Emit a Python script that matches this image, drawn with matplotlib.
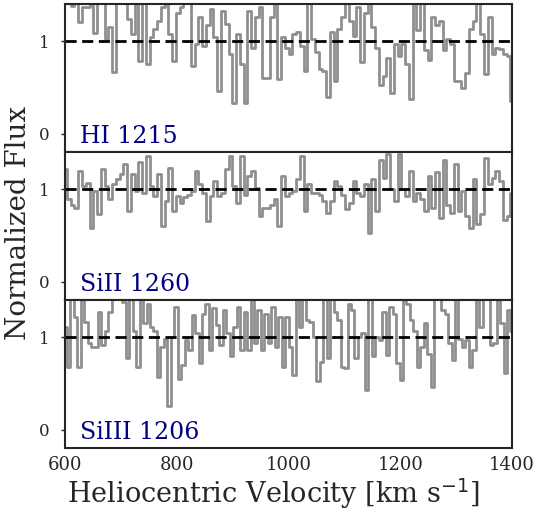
import numpy as np
import matplotlib
matplotlib.use("Agg")
import matplotlib.pyplot as plt

# Flux values (values above 1.4 are clipped by the axis)
flux_hi = [1.5, 1.5, 1.38, 1.5, 1.21, 1.37, 1.37, 1.5, 1.09, 1.5,
           1.5, 1.02, 1.15, 0.67, 1.5, 1.5, 1.5, 1.24, 1.08, 1.5,
           0.78, 1.5, 0.75, 1.04, 1.13, 1.22, 1.37, 1.5, 1.08, 0.79,
           1.30, 1.37, 1.5, 1.5, 0.73, 0.97, 1.26, 0.95, 1.17, 1.35,
           1.04, 0.46, 1.32, 1.19, 0.86, 0.33, 1.08, 0.75, 0.33, 1.33,
           0.93, 1.26, 1.37, 0.60, 0.60, 1.26, 1.5, 0.59, 1.04, 0.93,
           0.86, 1.08, 1.10, 0.95, 0.68, 1.5, 1.02, 0.88, 0.70, 0.68,
           0.40, 1.10, 0.57, 1.13, 1.26, 1.5, 1.22, 1.06, 1.37, 0.77,
           1.30, 1.5, 1.15, 0.93, 0.53, 0.62, 0.82, 0.44, 0.97, 0.84,
           0.97, 0.75, 0.37, 1.5, 1.12, 1.5, 0.90, 0.80, 1.26, 1.17,
           1.22, 0.90, 1.02, 0.97, 0.57, 0.57, 0.49, 0.66, 1.13, 1.22,
           1.5, 1.08, 0.64, 1.26, 0.86, 0.93, 0.91, 0.86, 0.84, 0.35]

flux_si2 = [1.22, 0.89, 0.83, 0.80, 1.20, 1.03, 1.07, 0.58, 0.98, 0.73,
            1.22, 1.03, 0.89, 1.05, 1.11, 1.16, 1.27, 0.76, 1.16, 0.98,
            1.29, 0.96, 1.36, 1.03, 0.93, 1.16, 0.60, 0.87, 1.23, 0.76,
            0.93, 0.85, 0.91, 0.94, 0.98, 1.20, 1.05, 0.96, 0.65, 0.93,
            1.09, 0.93, 0.96, 1.22, 1.36, 1.03, 0.85, 1.36, 0.94, 1.14,
            1.20, 1.01, 0.71, 0.80, 0.80, 0.83, 0.89, 0.60, 1.14, 0.93,
            0.96, 0.98, 1.11, 1.36, 0.76, 1.05, 0.96, 0.96, 0.94, 0.87,
            0.74, 0.87, 1.09, 1.03, 0.94, 0.78, 0.85, 1.09, 0.96, 0.93,
            1.05, 0.53, 1.11, 0.76, 1.31, 1.12, 1.38, 1.00, 0.87, 1.38,
            1.00, 0.93, 1.20, 0.87, 0.96, 0.89, 0.76, 1.14, 0.80, 1.18,
            0.69, 1.31, 0.83, 0.74, 1.27, 0.76, 0.98, 0.71, 0.58, 1.11,
            0.62, 0.73, 1.34, 1.05, 1.12, 1.20, 1.09, 0.67, 0.71, 0.96]

flux_si3 = [1.11, 0.68, 1.5, 1.22, 0.68, 1.5, 1.16, 0.93, 0.89, 0.89,
            1.27, 0.91, 1.07, 1.27, 1.5, 1.5, 1.5, 1.38, 0.77, 1.5,
            1.06, 0.68, 1.5, 1.15, 1.36, 1.11, 1.07, 0.57, 0.89, 0.98,
            0.25, 1.00, 1.32, 0.55, 0.70, 0.97, 0.86, 1.24, 1.04, 0.72,
            1.25, 1.36, 0.86, 1.31, 1.13, 0.91, 1.29, 1.04, 0.79, 1.11,
            1.32, 0.86, 1.27, 0.86, 1.5, 0.93, 1.29, 0.86, 1.25, 0.93,
            1.32, 0.89, 1.22, 0.68, 1.22, 0.89, 0.59, 1.5, 1.11, 1.5,
            1.18, 1.16, 1.00, 0.52, 0.73, 1.5, 0.77, 1.5, 1.27, 1.18,
            0.68, 0.66, 1.36, 1.29, 0.77, 1.00, 1.04, 0.43, 1.5, 0.79,
            1.00, 0.97, 1.27, 0.81, 1.32, 1.25, 0.72, 0.54, 1.5, 1.36,
            1.18, 1.06, 0.68, 0.89, 1.15, 0.82, 0.46, 1.5, 1.5, 1.29,
            1.25, 0.93, 0.75, 1.5, 0.98, 0.89, 0.97, 0.68, 0.86, 1.5,
            1.11, 1.5, 1.5, 0.91, 0.93, 1.5, 1.15, 0.61, 1.29, 1.07]

lines = ["HI 1215", "SiII 1260", "SiIII 1206"]
fluxes = [flux_hi, flux_si2, flux_si3]
vmin, vmax = 600, 1400

plt.rcParams["font.family"] = "DejaVu Serif"
plt.rcParams["text.color"] = "#262626"
plt.rcParams["axes.labelcolor"] = "#262626"
plt.rcParams["xtick.color"] = "#262626"
plt.rcParams["ytick.color"] = "#262626"

fig, axes = plt.subplots(3, 1, figsize=(5.38, 5.12), dpi=100, sharex=True)
fig.subplots_adjust(left=0.121, right=0.952, top=0.992, bottom=0.125, hspace=0)

for ax, name, flux in zip(axes, lines, fluxes):
    vel = np.linspace(vmin, vmax, len(flux))
    ax.step(vel, flux, where="mid", color="#8f8f8f", lw=2.0)
    ax.axhline(1.0, color="black", ls="--", lw=2, dashes=(4, 2))
    ax.set_xlim(vmin, vmax)
    ax.set_ylim(-0.2, 1.4)
    ax.set_yticks([0, 1])
    ax.tick_params(axis="y", length=3, width=1, labelsize=12, pad=8)
    ax.tick_params(axis="x", length=0)
    ax.text(0.034, 0.03, name, transform=ax.transAxes, color="navy",
            fontsize=17, va="bottom", ha="left")
    for sp in ax.spines.values():
        sp.set_color("#262626")
        sp.set_linewidth(1.5)

axes[-1].set_xticks([600, 800, 1000, 1200, 1400])
axes[-1].tick_params(axis="x", labelsize=13, pad=6)
fig.text(0.508, 0.035, "Heliocentric Velocity [km s$^{-1}$]", fontsize=19.5,
         va="center", ha="center", color="#262626")
fig.text(0.035, 0.565, "Normalized Flux", rotation=90, fontsize=20,
         va="center", ha="center", color="#262626")

fig.savefig("out.png", dpi=100)
